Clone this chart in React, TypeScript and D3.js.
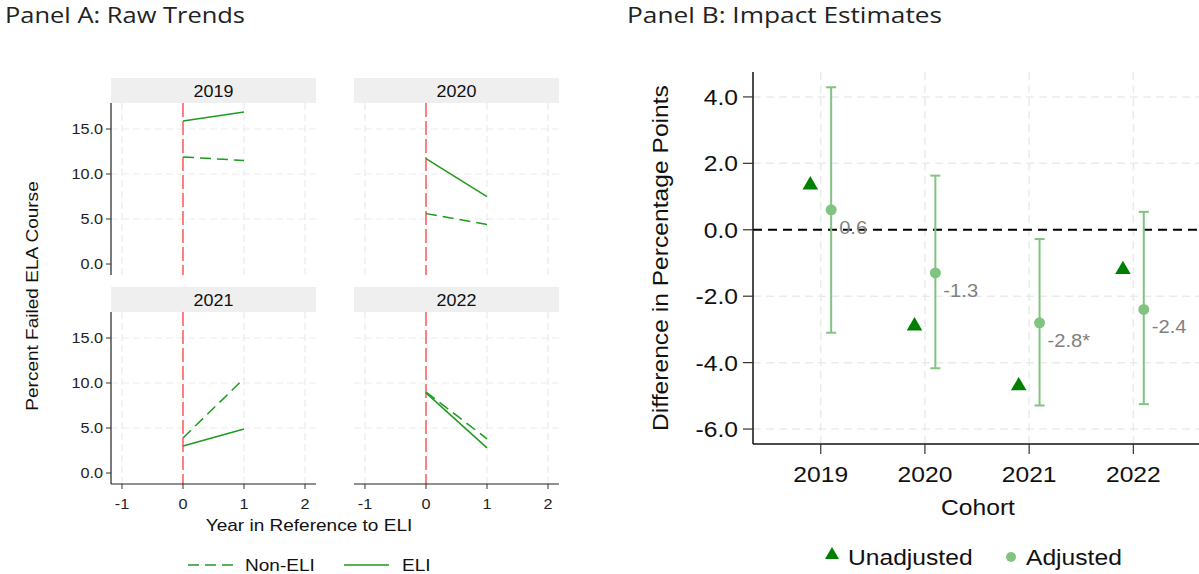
import React from "react";
import * as d3 from "d3";

// ---- Panel A data: percent failing ELA course, by cohort ----
const cohorts = ["2019", "2020", "2021", "2022"];
const relYears = [0, 1];
const eliValues = [
  [15.9, 16.9],
  [11.7, 7.5],
  [3.0, 4.9],
  [8.9, 2.8],
];
const nonEliValues = [
  [11.9, 11.5],
  [5.6, 4.4],
  [3.9, 10.5],
  [9.0, 3.8],
];
const aXTicks = [-1, 0, 1, 2];
const aYTicks = [0, 5, 10, 15];

// ---- Panel B data: impact estimates ----
const cohortYears = [2019, 2020, 2021, 2022];
const unadjusted = [1.35, -2.9, -4.7, -1.2];
const adjusted = [0.6, -1.3, -2.8, -2.4];
const adjLower = [-3.1, -4.17, -5.29, -5.25];
const adjUpper = [4.29, 1.63, -0.28, 0.54];
const adjLabels = ["0.6", "-1.3", "-2.8*", "-2.4"];
const bYTicks = [4, 2, 0, -2, -4, -6];

const FONT = "'Liberation Sans', Arial, sans-serif";
const TITLE_FONT = "'Open Sans', sans-serif";
const LINE_GREEN = "#1f9a1f";
const DARK_GREEN = "#008000";
const LIGHT_GREEN = "#80c480";
const GRID = "#ebebeb";
const SX = 1.12; // horizontal stretch of the label glyphs
const NON_ELI_DASH = "11,6";

type TProps = {
  x: number;
  y: number;
  size: number;
  anchor?: "start" | "middle" | "end";
  fill?: string;
  rotate?: number;
  children: React.ReactNode;
};

function T({ x, y, size, anchor = "start", fill = "#111", rotate = 0, children }: TProps) {
  return (
    <text
      transform={`translate(${x},${y}) rotate(${rotate}) scale(${SX},1)`}
      textAnchor={anchor}
      fontSize={size}
      fontFamily={FONT}
      fill={fill}
    >
      {children}
    </text>
  );
}

function Facet({ idx, x0, y0, showY, showX }: { idx: number; x0: number; y0: number; showY: boolean; showX: boolean }) {
  const w = 205;
  const h = 172;
  const x = d3.scaleLinear().domain([-1.18, 2.18]).range([x0, x0 + w]);
  const y = d3.scaleLinear().domain([-1.22, 17.89]).range([y0 + h, y0]);
  const line = d3
    .line<number>()
    .x((_, i) => x(relYears[i]))
    .y((v) => y(v));
  return (
    <g>
      <rect x={x0} y={y0 - 25} width={w} height={25} fill="#efefef" />
      <T x={x0 + w / 2} y={y0 - 6.5} size={16} anchor="middle">
        {cohorts[idx]}
      </T>
      {aYTicks
        .filter((t) => t > 0)
        .map((t) => (
          <line key={"gy" + t} x1={x0} x2={x0 + w} y1={y(t)} y2={y(t)} stroke={GRID} strokeWidth={1.2} strokeDasharray="7,4" />
        ))}
      {aXTicks
        .filter((t) => t !== 0)
        .map((t) => (
          <line key={"gx" + t} x1={x(t)} x2={x(t)} y1={y0} y2={y0 + h} stroke={GRID} strokeWidth={1.2} strokeDasharray="7,4" />
        ))}
      <line x1={x(0)} x2={x(0)} y1={y0} y2={y0 + h} stroke="#ff3b3b" strokeWidth={1.3} strokeDasharray="14,4" />
      <path d={line(nonEliValues[idx]) || ""} fill="none" stroke={LINE_GREEN} strokeWidth={1.5} strokeDasharray={NON_ELI_DASH} />
      <path d={line(eliValues[idx]) || ""} fill="none" stroke={LINE_GREEN} strokeWidth={1.5} />
      {showY && (
        <g>
          <line x1={x0} x2={x0} y1={y0} y2={y0 + h} stroke="#222" strokeWidth={1.2} />
          {aYTicks.map((t) => (
            <g key={"yt" + t}>
              <line x1={x0 - 5} x2={x0} y1={y(t)} y2={y(t)} stroke="#333" strokeWidth={1} />
              <T x={x0 - 8} y={y(t) + 5} size={14.5} anchor="end" fill="#222">
                {t.toFixed(1)}
              </T>
            </g>
          ))}
        </g>
      )}
      {showX && (
        <g>
          <line x1={x0} x2={x0 + w} y1={y0 + h} y2={y0 + h} stroke="#222" strokeWidth={1.2} />
          {aXTicks.map((t) => (
            <g key={"xt" + t}>
              <line x1={x(t)} x2={x(t)} y1={y0 + h} y2={y0 + h + 5} stroke="#333" strokeWidth={1} />
              <T x={x(t)} y={y0 + h + 25} size={14.5} anchor="middle" fill="#222">
                {t}
              </T>
            </g>
          ))}
        </g>
      )}
    </g>
  );
}

function PanelB() {
  const x = d3.scaleLinear().domain([2018.35, 2022.63]).range([753, 1199]);
  const y = d3.scaleLinear().domain([-6.45, 4.75]).range([444, 72]);
  const off = 0.1;
  const tri = d3.symbol().type(d3.symbolTriangle).size(105)() || "";
  const triLegend = d3.symbol().type(d3.symbolTriangle).size(85)() || "";
  return (
    <g>
      {bYTicks
        .filter((t) => t !== 0)
        .map((t) => (
          <line key={"gy" + t} x1={753} x2={1199} y1={y(t)} y2={y(t)} stroke={GRID} strokeWidth={1.5} strokeDasharray="8,5" />
        ))}
      {cohortYears.map((c) => (
        <line key={"gx" + c} x1={x(c)} x2={x(c)} y1={72} y2={444} stroke={GRID} strokeWidth={1.5} strokeDasharray="8,5" />
      ))}
      <line x1={753} x2={1199} y1={y(0)} y2={y(0)} stroke="#000" strokeWidth={2.2} strokeDasharray="9,6" />
      {/* confidence intervals for adjusted estimates */}
      {cohortYears.map((c, i) => {
        const cx = x(c + off);
        return (
          <g key={"ci" + c}>
            <line x1={cx} x2={cx} y1={y(adjUpper[i])} y2={y(adjLower[i])} stroke={LIGHT_GREEN} strokeWidth={2} />
            <line x1={cx - 5} x2={cx + 5} y1={y(adjUpper[i])} y2={y(adjUpper[i])} stroke={LIGHT_GREEN} strokeWidth={2} />
            <line x1={cx - 5} x2={cx + 5} y1={y(adjLower[i])} y2={y(adjLower[i])} stroke={LIGHT_GREEN} strokeWidth={2} />
            <circle cx={cx} cy={y(adjusted[i])} r={5.5} fill={LIGHT_GREEN} />
            <T x={cx + 8} y={y(adjusted[i]) + 24} size={18} fill="#7f7f7f">
              {adjLabels[i]}
            </T>
          </g>
        );
      })}
      {cohortYears.map((c, i) => (
        <path key={"u" + c} d={tri} transform={`translate(${x(c - off)},${y(unadjusted[i])})`} fill={DARK_GREEN} />
      ))}
      {/* axes */}
      <line x1={753} x2={753} y1={72} y2={444} stroke="#111" strokeWidth={1.5} />
      <line x1={753} x2={1199} y1={444} y2={444} stroke="#111" strokeWidth={1.5} />
      {bYTicks.map((t) => (
        <g key={"yt" + t}>
          <line x1={743} x2={753} y1={y(t)} y2={y(t)} stroke="#333" strokeWidth={1.2} />
          <T x={738} y={y(t) + 8} size={22} anchor="end">
            {t.toFixed(1)}
          </T>
        </g>
      ))}
      {cohortYears.map((c) => (
        <g key={"xt" + c}>
          <line x1={x(c)} x2={x(c)} y1={444} y2={454} stroke="#333" strokeWidth={1.2} />
          <T x={x(c)} y={482} size={22} anchor="middle">
            {c}
          </T>
        </g>
      ))}
      <T x={978} y={515} size={22} anchor="middle">
        Cohort
      </T>
      <T x={668} y={258} size={22} anchor="middle" rotate={-90}>
        Difference in Percentage Points
      </T>
      {/* legend */}
      <path d={triLegend} transform="translate(832,555)" fill={DARK_GREEN} />
      <T x={848} y={565} size={22}>
        Unadjusted
      </T>
      <circle cx={1011} cy={557} r={5} fill={LIGHT_GREEN} />
      <T x={1026} y={565} size={22}>
        Adjusted
      </T>
    </g>
  );
}

export default function App() {
  return (
    <svg width={1199} height={574} style={{ position: "absolute", left: 0, top: 0, background: "#fff" }}>
      <rect width={1199} height={574} fill="#fff" />
      <text x={5} y={23} fontSize={21} fontFamily={TITLE_FONT} fill="#222" textLength={240} lengthAdjust="spacingAndGlyphs">
        Panel A: Raw Trends
      </text>
      <text x={627} y={23} fontSize={21} fontFamily={TITLE_FONT} fill="#222" textLength={315} lengthAdjust="spacingAndGlyphs">
        Panel B: Impact Estimates
      </text>
      <Facet idx={0} x0={111} y0={103} showY={true} showX={false} />
      <Facet idx={1} x0={354} y0={103} showY={false} showX={false} />
      <Facet idx={2} x0={111} y0={312} showY={true} showX={true} />
      <Facet idx={3} x0={354} y0={312} showY={false} showX={true} />
      <T x={38} y={296} size={17} anchor="middle" rotate={-90}>
        Percent Failed ELA Course
      </T>
      <T x={309} y={531} size={17} anchor="middle">
        Year in Reference to ELI
      </T>
      <line x1={188} x2={233} y1={565} y2={565} stroke={LINE_GREEN} strokeWidth={1.5} strokeDasharray={NON_ELI_DASH} />
      <T x={245} y={571} size={17}>
        Non-ELI
      </T>
      <line x1={344} x2={389} y1={565} y2={565} stroke={LINE_GREEN} strokeWidth={1.5} />
      <T x={402} y={571} size={17}>
        ELI
      </T>
      <PanelB />
    </svg>
  );
}
